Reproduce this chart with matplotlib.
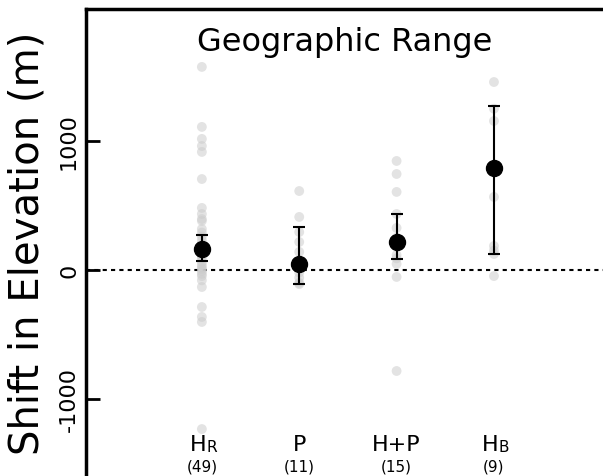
import numpy as np
import matplotlib.pyplot as plt

groups = ['HR', 'P', 'H+P', 'HB']
counts = ['(49)', '(11)', '(15)', '(9)']

# raw shifts per group (m)
hr_pts = [1574, 1109, 1016, 961, 915, 705, 481, 434, 395, 380, 318, 290, 260, 230,
          200, 170, 150, 130, 110, 90, 62, 40, 20, 8, -10, -30, -47, -80, -132,
          -287, -364, -403, -1233]
p_pts = [612, 411, 294, 217, 140, 70, 30, -20, -60, -100, -110]
hp_pts = [845, 744, 605, 434, 326, 250, 180, 116, 90, 47, -54, -783]
hb_pts = [1457, 1250, 1155, 800, 566, 186, 150, 124, -47]
points = [hr_pts, p_pts, hp_pts, hb_pts]

means = [163, 47, 217, 791]
ci_low = [70, -109, 85, 124]
ci_high = [271, 333, 434, 1271]

fig = plt.figure(figsize=(6.03, 4.77), dpi=100)
ax = fig.add_axes([86 / 603, 0, 517 / 603, 467 / 477])

x = np.arange(len(groups))
for i, pts in enumerate(points):
    ax.scatter(np.full(len(pts), x[i]), pts, s=50, color='#cccccc', alpha=0.55,
               edgecolors='none', zorder=2)

ax.axhline(0, color='black', lw=1.5, linestyle=(0, (2, 2)), zorder=1)

means = np.array(means)
yerr = [means - np.array(ci_low), np.array(ci_high) - means]
ax.errorbar(x, means, yerr=yerr, fmt='o', color='black', ms=11.5, elinewidth=1.5,
            capsize=4.5, capthick=1.5, zorder=3)

ax.set_xlim(-1.19, 4.12)
ax.set_ylim(-1597, 2023)
ax.set_xticks([])
ax.set_yticks([-1000, 0, 1000])
ax.set_yticklabels(['-1000', '0', '1000'], rotation=90, va='center', fontsize=16)
ax.tick_params(axis='y', direction='in', length=10, width=2, pad=5)
for s in ['right', 'bottom']:
    ax.spines[s].set_visible(False)
for s in ['left', 'top']:
    ax.spines[s].set_linewidth(2.5)

ax.set_ylabel('Shift in Elevation (m)', fontsize=29)
ax.yaxis.set_label_coords(-0.074, 0.5)
ax.text(0.5, 0.931, 'Geographic Range', transform=ax.transAxes, ha='center',
        va='center', fontsize=23)

# group labels, with the small-cap letter for HR and HB
for i, g in enumerate(groups):
    if g in ('HR', 'HB'):
        ax.annotate('H', (x[i], -1349), xytext=(3, 0), textcoords='offset points',
                    ha='right', va='center', fontsize=16)
        ax.annotate(g[1], (x[i], -1349), xytext=(3, -1.5), textcoords='offset points',
                    ha='left', va='center', fontsize=11)
    else:
        ax.text(x[i], -1349, g, ha='center', va='center', fontsize=16)
    ax.text(x[i], -1519, counts[i], ha='center', va='center', fontsize=11)

fig.savefig('out.png', dpi=100)
